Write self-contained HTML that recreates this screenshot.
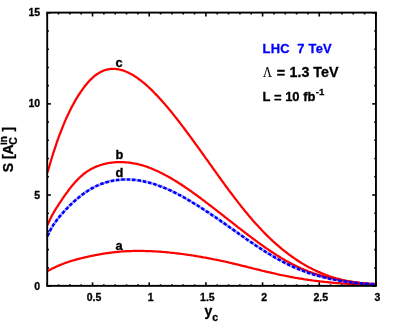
<!DOCTYPE html>
<html><head><meta charset="utf-8"><style>
html,body{margin:0;padding:0;background:#fff;}
svg{display:block;will-change:transform;}
text{font-family:"Liberation Sans",sans-serif;font-weight:bold;fill:#000;stroke:#000;stroke-width:0.3px;}
</style></head><body>
<svg width="396" height="332" viewBox="0 0 396 332">
<g fill="none" stroke="#ff0000" stroke-width="2.25" stroke-linejoin="round">
<path d="M47.5,172.5 L48.1,170.4 L48.7,168.4 L49.3,166.3 L49.9,164.3 L50.5,162.3 L51.1,160.3 L51.7,158.3 L52.3,156.3 L52.9,154.4 L53.5,152.4 L54.2,150.5 L54.8,148.7 L55.4,146.8 L56.0,145.0 L56.6,143.2 L57.2,141.4 L57.8,139.7 L58.4,138.0 L59.0,136.3 L59.6,134.6 L60.3,133.0 L60.9,131.4 L61.5,129.8 L62.1,128.3 L62.7,126.8 L63.3,125.3 L63.9,123.8 L64.5,122.4 L65.1,120.9 L65.7,119.6 L66.3,118.2 L67.0,116.8 L67.6,115.5 L68.2,114.2 L68.8,112.9 L69.4,111.7 L70.0,110.5 L70.6,109.2 L71.2,108.0 L71.8,106.9 L72.4,105.7 L73.1,104.6 L73.7,103.5 L74.3,102.4 L74.9,101.3 L75.5,100.2 L76.1,99.2 L76.7,98.2 L77.3,97.2 L77.9,96.2 L78.5,95.2 L79.2,94.3 L79.8,93.3 L80.4,92.4 L81.0,91.5 L81.6,90.6 L82.2,89.8 L82.8,88.9 L83.4,88.1 L84.0,87.3 L84.6,86.5 L85.2,85.7 L85.9,84.9 L86.5,84.2 L87.1,83.5 L87.7,82.8 L88.3,82.1 L88.9,81.4 L89.5,80.8 L90.1,80.1 L90.7,79.5 L91.3,78.9 L92.0,78.3 L92.6,77.8 L93.2,77.2 L93.8,76.7 L94.4,76.2 L95.0,75.7 L95.6,75.2 L96.2,74.8 L96.8,74.3 L97.4,73.9 L98.1,73.5 L98.7,73.1 L99.3,72.7 L99.9,72.4 L100.5,72.1 L101.1,71.7 L101.7,71.4 L102.3,71.2 L102.9,70.9 L103.5,70.7 L104.1,70.4 L104.8,70.2 L105.4,70.0 L106.0,69.8 L106.6,69.7 L107.2,69.5 L107.8,69.4 L108.4,69.3 L109.0,69.2 L109.6,69.1 L110.2,69.0 L110.9,68.9 L111.5,68.9 L112.1,68.9 L112.7,68.8 L113.3,68.8 L113.9,68.8 L114.5,68.9 L115.1,68.9 L115.7,69.0 L116.3,69.0 L117.0,69.1 L117.6,69.2 L118.2,69.3 L118.8,69.4 L119.4,69.5 L120.0,69.6 L120.5,69.8 L121.7,70.1 L122.8,70.4 L124.0,70.8 L125.2,71.3 L126.3,71.7 L127.5,72.2 L128.7,72.8 L129.8,73.4 L131.0,74.0 L132.1,74.6 L133.3,75.3 L134.5,76.1 L135.6,76.8 L136.8,77.6 L138.0,78.4 L139.1,79.3 L140.3,80.1 L141.5,81.0 L142.6,82.0 L143.8,82.9 L145.0,83.9 L146.1,84.9 L147.3,86.0 L148.5,87.0 L149.6,88.1 L150.8,89.2 L152.0,90.4 L153.1,91.5 L154.3,92.7 L155.4,93.9 L156.6,95.1 L157.8,96.3 L158.9,97.6 L160.1,98.9 L161.3,100.1 L162.4,101.5 L163.6,102.8 L164.8,104.1 L165.9,105.5 L167.1,106.8 L168.3,108.2 L169.4,109.6 L170.6,111.1 L171.8,112.5 L172.9,113.9 L174.1,115.4 L175.2,116.9 L176.4,118.3 L177.6,119.8 L178.7,121.3 L179.9,122.8 L181.1,124.4 L182.2,125.9 L183.4,127.4 L184.6,129.0 L185.7,130.5 L186.9,132.1 L188.1,133.7 L189.2,135.2 L190.4,136.8 L191.6,138.4 L192.7,140.0 L193.9,141.6 L195.0,143.2 L196.2,144.8 L197.4,146.4 L198.5,148.0 L199.7,149.6 L200.9,151.3 L202.0,152.9 L203.2,154.5 L204.4,156.1 L205.5,157.8 L206.7,159.4 L207.9,161.0 L209.0,162.7 L210.2,164.3 L211.4,165.9 L212.5,167.6 L213.7,169.2 L214.9,170.8 L216.0,172.5 L217.2,174.1 L218.3,175.7 L219.5,177.3 L220.7,179.0 L221.8,180.6 L223.0,182.2 L224.2,183.8 L225.3,185.4 L226.5,187.0 L227.7,188.5 L228.8,190.1 L230.0,191.7 L231.2,193.2 L232.3,194.8 L233.5,196.3 L234.7,197.9 L235.8,199.4 L237.0,200.9 L238.1,202.4 L239.3,203.9 L240.5,205.4 L241.6,206.9 L242.8,208.3 L244.0,209.8 L245.1,211.2 L246.3,212.6 L247.5,214.0 L248.6,215.4 L249.8,216.8 L251.0,218.2 L252.1,219.5 L253.3,220.9 L254.5,222.2 L255.6,223.5 L256.8,224.8 L258.0,226.1 L259.1,227.3 L260.3,228.6 L261.4,229.8 L262.6,231.0 L263.8,232.2 L264.9,233.4 L266.1,234.6 L267.3,235.7 L268.4,236.9 L269.6,238.0 L270.8,239.1 L271.9,240.2 L273.1,241.3 L274.3,242.3 L275.4,243.4 L276.6,244.4 L277.8,245.4 L278.9,246.4 L280.1,247.4 L281.2,248.4 L282.4,249.4 L283.6,250.3 L284.7,251.2 L285.9,252.1 L287.1,253.0 L288.2,253.9 L289.4,254.8 L290.6,255.7 L291.7,256.5 L292.9,257.3 L294.1,258.1 L295.2,258.9 L296.4,259.7 L297.6,260.5 L298.7,261.2 L299.9,262.0 L301.1,262.7 L302.2,263.4 L303.4,264.1 L304.5,264.8 L305.7,265.5 L306.9,266.1 L308.0,266.8 L309.2,267.4 L310.4,268.0 L311.5,268.6 L312.7,269.2 L313.9,269.8 L315.0,270.3 L316.2,270.9 L317.4,271.4 L318.5,271.9 L319.7,272.4 L320.9,272.9 L322.0,273.4 L323.2,273.9 L324.3,274.3 L325.5,274.8 L326.7,275.2 L327.8,275.6 L329.0,276.1 L330.2,276.5 L331.3,276.8 L332.5,277.2 L333.7,277.6 L334.8,277.9 L336.0,278.3 L337.2,278.6 L338.3,278.9 L339.5,279.2 L340.7,279.5 L341.8,279.8 L343.0,280.1 L344.1,280.3 L345.3,280.6 L346.5,280.8 L347.6,281.1 L348.8,281.3 L350.0,281.5 L351.1,281.7 L352.3,281.9 L353.5,282.1 L354.6,282.3 L355.8,282.5 L357.0,282.6 L358.1,282.8 L359.3,282.9 L360.5,283.0 L361.6,283.2 L362.8,283.3 L364.0,283.4 L365.1,283.5 L366.3,283.6 L367.4,283.6 L368.6,283.7 L369.8,283.8 L370.9,283.8 L372.1,283.9 L373.3,283.9 L374.4,283.9 L375.6,284.0"/>
<path d="M47.5,225.2 L48.1,223.7 L48.7,222.3 L49.3,221.0 L49.9,219.7 L50.5,218.5 L51.1,217.3 L51.7,216.1 L52.3,215.0 L52.9,213.9 L53.5,212.8 L54.2,211.7 L54.8,210.7 L55.4,209.7 L56.0,208.7 L56.6,207.7 L57.2,206.8 L57.8,205.8 L58.4,204.9 L59.0,203.9 L59.6,203.0 L60.3,202.1 L60.9,201.2 L61.5,200.3 L62.1,199.4 L62.7,198.5 L63.3,197.6 L63.9,196.7 L64.5,195.8 L65.1,194.9 L65.7,194.1 L66.3,193.2 L67.0,192.4 L67.6,191.6 L68.2,190.7 L68.8,189.9 L69.4,189.1 L70.0,188.4 L70.6,187.6 L71.2,186.8 L71.8,186.1 L72.4,185.3 L73.1,184.6 L73.7,183.9 L74.3,183.2 L74.9,182.5 L75.5,181.8 L76.1,181.1 L76.7,180.5 L77.3,179.9 L77.9,179.2 L78.5,178.6 L79.2,178.0 L79.8,177.4 L80.4,176.9 L81.0,176.3 L81.6,175.8 L82.2,175.3 L82.8,174.7 L83.4,174.2 L84.0,173.8 L84.6,173.3 L85.2,172.8 L85.9,172.4 L86.5,172.0 L87.1,171.5 L87.7,171.1 L88.3,170.7 L88.9,170.4 L89.5,170.0 L90.1,169.6 L90.7,169.3 L91.3,168.9 L92.0,168.6 L92.6,168.3 L93.2,168.0 L93.8,167.7 L94.4,167.4 L95.0,167.1 L95.6,166.9 L96.2,166.6 L96.8,166.4 L97.4,166.1 L98.1,165.9 L98.7,165.7 L99.3,165.5 L99.9,165.2 L100.5,165.0 L101.1,164.9 L101.7,164.7 L102.3,164.5 L102.9,164.3 L103.5,164.2 L104.1,164.0 L104.8,163.9 L105.4,163.7 L106.0,163.6 L106.6,163.5 L107.2,163.3 L107.8,163.2 L108.4,163.1 L109.0,163.0 L109.6,162.9 L110.2,162.8 L110.9,162.7 L111.5,162.6 L112.1,162.6 L112.7,162.5 L113.3,162.4 L113.9,162.4 L114.5,162.3 L115.1,162.3 L115.7,162.2 L116.3,162.2 L117.0,162.2 L117.6,162.2 L118.2,162.1 L118.8,162.1 L119.4,162.1 L120.0,162.1 L120.5,162.1 L121.7,162.1 L122.8,162.1 L124.0,162.2 L125.2,162.3 L126.3,162.3 L127.5,162.5 L128.7,162.6 L129.8,162.7 L131.0,162.9 L132.1,163.1 L133.3,163.3 L134.5,163.5 L135.6,163.7 L136.8,163.9 L138.0,164.2 L139.1,164.5 L140.3,164.8 L141.5,165.1 L142.6,165.4 L143.8,165.8 L145.0,166.2 L146.1,166.5 L147.3,166.9 L148.5,167.4 L149.6,167.8 L150.8,168.2 L152.0,168.7 L153.1,169.2 L154.3,169.7 L155.4,170.2 L156.6,170.7 L157.8,171.3 L158.9,171.8 L160.1,172.4 L161.3,173.0 L162.4,173.5 L163.6,174.2 L164.8,174.8 L165.9,175.4 L167.1,176.0 L168.3,176.7 L169.4,177.3 L170.6,178.0 L171.8,178.7 L172.9,179.4 L174.1,180.1 L175.2,180.8 L176.4,181.5 L177.6,182.2 L178.7,183.0 L179.9,183.7 L181.1,184.5 L182.2,185.2 L183.4,186.0 L184.6,186.8 L185.7,187.6 L186.9,188.4 L188.1,189.2 L189.2,190.0 L190.4,190.8 L191.6,191.6 L192.7,192.5 L193.9,193.3 L195.0,194.1 L196.2,195.0 L197.4,195.8 L198.5,196.7 L199.7,197.5 L200.9,198.4 L202.0,199.3 L203.2,200.2 L204.4,201.0 L205.5,201.9 L206.7,202.8 L207.9,203.7 L209.0,204.6 L210.2,205.5 L211.4,206.4 L212.5,207.3 L213.7,208.2 L214.9,209.1 L216.0,210.0 L217.2,210.9 L218.3,211.8 L219.5,212.7 L220.7,213.6 L221.8,214.5 L223.0,215.4 L224.2,216.4 L225.3,217.3 L226.5,218.2 L227.7,219.1 L228.8,220.0 L230.0,220.9 L231.2,221.8 L232.3,222.7 L233.5,223.7 L234.7,224.6 L235.8,225.5 L237.0,226.4 L238.1,227.3 L239.3,228.2 L240.5,229.1 L241.6,230.0 L242.8,230.9 L244.0,231.8 L245.1,232.7 L246.3,233.6 L247.5,234.5 L248.6,235.3 L249.8,236.2 L251.0,237.1 L252.1,238.0 L253.3,238.9 L254.5,239.7 L255.6,240.6 L256.8,241.4 L258.0,242.3 L259.1,243.1 L260.3,244.0 L261.4,244.8 L262.6,245.6 L263.8,246.5 L264.9,247.3 L266.1,248.1 L267.3,248.9 L268.4,249.7 L269.6,250.5 L270.8,251.3 L271.9,252.0 L273.1,252.8 L274.3,253.6 L275.4,254.3 L276.6,255.1 L277.8,255.8 L278.9,256.5 L280.1,257.2 L281.2,257.9 L282.4,258.6 L283.6,259.3 L284.7,260.0 L285.9,260.7 L287.1,261.3 L288.2,262.0 L289.4,262.6 L290.6,263.2 L291.7,263.8 L292.9,264.5 L294.1,265.0 L295.2,265.6 L296.4,266.2 L297.6,266.8 L298.7,267.3 L299.9,267.8 L301.1,268.4 L302.2,268.9 L303.4,269.4 L304.5,269.9 L305.7,270.3 L306.9,270.8 L308.0,271.3 L309.2,271.7 L310.4,272.1 L311.5,272.5 L312.7,273.0 L313.9,273.4 L315.0,273.7 L316.2,274.1 L317.4,274.5 L318.5,274.8 L319.7,275.2 L320.9,275.5 L322.0,275.9 L323.2,276.2 L324.3,276.5 L325.5,276.8 L326.7,277.1 L327.8,277.4 L329.0,277.7 L330.2,277.9 L331.3,278.2 L332.5,278.5 L333.7,278.7 L334.8,279.0 L336.0,279.2 L337.2,279.4 L338.3,279.7 L339.5,279.9 L340.7,280.1 L341.8,280.3 L343.0,280.5 L344.1,280.7 L345.3,280.9 L346.5,281.1 L347.6,281.3 L348.8,281.4 L350.0,281.6 L351.1,281.8 L352.3,281.9 L353.5,282.1 L354.6,282.3 L355.8,282.4 L357.0,282.6 L358.1,282.7 L359.3,282.8 L360.5,283.0 L361.6,283.1 L362.8,283.2 L364.0,283.4 L365.1,283.5 L366.3,283.6 L367.4,283.7 L368.6,283.9 L369.8,284.0 L370.9,284.1 L372.1,284.2 L373.3,284.3 L374.4,284.4 L375.6,284.5"/>
<path d="M47.5,271.1 L48.1,270.8 L48.7,270.4 L49.3,270.1 L49.9,269.8 L50.5,269.5 L51.1,269.2 L51.7,268.9 L52.3,268.5 L52.9,268.2 L53.5,267.9 L54.2,267.7 L54.8,267.4 L55.4,267.1 L56.0,266.8 L56.6,266.5 L57.2,266.2 L57.8,266.0 L58.4,265.7 L59.0,265.4 L59.6,265.2 L60.3,264.9 L60.9,264.7 L61.5,264.4 L62.1,264.2 L62.7,264.0 L63.3,263.7 L63.9,263.5 L64.5,263.3 L65.1,263.0 L65.7,262.8 L66.3,262.6 L67.0,262.4 L67.6,262.2 L68.2,262.0 L68.8,261.8 L69.4,261.6 L70.0,261.4 L70.6,261.2 L71.2,261.0 L71.8,260.8 L72.4,260.6 L73.1,260.5 L73.7,260.3 L74.3,260.1 L74.9,259.9 L75.5,259.8 L76.1,259.6 L76.7,259.4 L77.3,259.3 L77.9,259.1 L78.5,258.9 L79.2,258.8 L79.8,258.6 L80.4,258.5 L81.0,258.3 L81.6,258.2 L82.2,258.0 L82.8,257.9 L83.4,257.7 L84.0,257.6 L84.6,257.4 L85.2,257.3 L85.9,257.2 L86.5,257.0 L87.1,256.9 L87.7,256.7 L88.3,256.6 L88.9,256.5 L89.5,256.3 L90.1,256.2 L90.7,256.1 L91.3,256.0 L92.0,255.8 L92.6,255.7 L93.2,255.6 L93.8,255.5 L94.4,255.3 L95.0,255.2 L95.6,255.1 L96.2,255.0 L96.8,254.9 L97.4,254.8 L98.1,254.6 L98.7,254.5 L99.3,254.4 L99.9,254.3 L100.5,254.2 L101.1,254.1 L101.7,254.0 L102.3,253.9 L102.9,253.8 L103.5,253.7 L104.1,253.6 L104.8,253.5 L105.4,253.4 L106.0,253.3 L106.6,253.2 L107.2,253.1 L107.8,253.0 L108.4,253.0 L109.0,252.9 L109.6,252.8 L110.2,252.7 L110.9,252.6 L111.5,252.6 L112.1,252.5 L112.7,252.4 L113.3,252.3 L113.9,252.3 L114.5,252.2 L115.1,252.1 L115.7,252.1 L116.3,252.0 L117.0,251.9 L117.6,251.9 L118.2,251.8 L118.8,251.8 L119.4,251.7 L120.0,251.7 L120.5,251.6 L121.7,251.5 L122.8,251.4 L124.0,251.3 L125.2,251.3 L126.3,251.2 L127.5,251.1 L128.7,251.1 L129.8,251.0 L131.0,251.0 L132.1,251.0 L133.3,250.9 L134.5,250.9 L135.6,250.9 L136.8,250.9 L138.0,250.9 L139.1,250.9 L140.3,250.9 L141.5,250.9 L142.6,250.9 L143.8,250.9 L145.0,251.0 L146.1,251.0 L147.3,251.0 L148.5,251.1 L149.6,251.1 L150.8,251.2 L152.0,251.2 L153.1,251.3 L154.3,251.3 L155.4,251.4 L156.6,251.5 L157.8,251.6 L158.9,251.6 L160.1,251.7 L161.3,251.8 L162.4,251.9 L163.6,252.0 L164.8,252.1 L165.9,252.2 L167.1,252.3 L168.3,252.4 L169.4,252.5 L170.6,252.7 L171.8,252.8 L172.9,252.9 L174.1,253.0 L175.2,253.2 L176.4,253.3 L177.6,253.4 L178.7,253.6 L179.9,253.7 L181.1,253.9 L182.2,254.0 L183.4,254.2 L184.6,254.3 L185.7,254.5 L186.9,254.7 L188.1,254.8 L189.2,255.0 L190.4,255.2 L191.6,255.3 L192.7,255.5 L193.9,255.7 L195.0,255.9 L196.2,256.1 L197.4,256.3 L198.5,256.5 L199.7,256.7 L200.9,256.9 L202.0,257.1 L203.2,257.3 L204.4,257.5 L205.5,257.7 L206.7,257.9 L207.9,258.1 L209.0,258.3 L210.2,258.6 L211.4,258.8 L212.5,259.0 L213.7,259.3 L214.9,259.5 L216.0,259.7 L217.2,260.0 L218.3,260.2 L219.5,260.5 L220.7,260.7 L221.8,261.0 L223.0,261.2 L224.2,261.5 L225.3,261.7 L226.5,262.0 L227.7,262.2 L228.8,262.5 L230.0,262.8 L231.2,263.0 L232.3,263.3 L233.5,263.6 L234.7,263.9 L235.8,264.2 L237.0,264.4 L238.1,264.7 L239.3,265.0 L240.5,265.3 L241.6,265.6 L242.8,265.9 L244.0,266.1 L245.1,266.4 L246.3,266.7 L247.5,267.0 L248.6,267.3 L249.8,267.6 L251.0,267.9 L252.1,268.2 L253.3,268.5 L254.5,268.8 L255.6,269.0 L256.8,269.3 L258.0,269.6 L259.1,269.9 L260.3,270.2 L261.4,270.5 L262.6,270.8 L263.8,271.0 L264.9,271.3 L266.1,271.6 L267.3,271.9 L268.4,272.1 L269.6,272.4 L270.8,272.7 L271.9,273.0 L273.1,273.2 L274.3,273.5 L275.4,273.7 L276.6,274.0 L277.8,274.3 L278.9,274.5 L280.1,274.8 L281.2,275.0 L282.4,275.3 L283.6,275.5 L284.7,275.7 L285.9,276.0 L287.1,276.2 L288.2,276.4 L289.4,276.7 L290.6,276.9 L291.7,277.1 L292.9,277.3 L294.1,277.5 L295.2,277.8 L296.4,278.0 L297.6,278.2 L298.7,278.4 L299.9,278.6 L301.1,278.7 L302.2,278.9 L303.4,279.1 L304.5,279.3 L305.7,279.5 L306.9,279.6 L308.0,279.8 L309.2,280.0 L310.4,280.1 L311.5,280.3 L312.7,280.5 L313.9,280.6 L315.0,280.8 L316.2,280.9 L317.4,281.1 L318.5,281.2 L319.7,281.3 L320.9,281.5 L322.0,281.6 L323.2,281.7 L324.3,281.9 L325.5,282.0 L326.7,282.1 L327.8,282.2 L329.0,282.3 L330.2,282.4 L331.3,282.6 L332.5,282.7 L333.7,282.8 L334.8,282.9 L336.0,283.0 L337.2,283.1 L338.3,283.2 L339.5,283.2 L340.7,283.3 L341.8,283.4 L343.0,283.5 L344.1,283.6 L345.3,283.7 L346.5,283.7 L347.6,283.8 L348.8,283.9 L350.0,284.0 L351.1,284.0 L352.3,284.1 L353.5,284.2 L354.6,284.2 L355.8,284.3 L357.0,284.3 L358.1,284.4 L359.3,284.4 L360.5,284.5 L361.6,284.5 L362.8,284.6 L364.0,284.6 L365.1,284.7 L366.3,284.7 L367.4,284.7 L368.6,284.8 L369.8,284.8 L370.9,284.9 L372.1,284.9 L373.3,284.9 L374.4,284.9 L375.6,285.0"/>
</g>
<path d="M47.5,236.2 L48.1,234.8 L48.7,233.5 L49.3,232.2 L49.9,231.0 L50.5,229.8 L51.1,228.7 L51.7,227.6 L52.3,226.6 L52.9,225.6 L53.5,224.7 L54.2,223.8 L54.8,222.9 L55.4,222.0 L56.0,221.2 L56.6,220.4 L57.2,219.6 L57.8,218.8 L58.4,218.0 L59.0,217.3 L59.6,216.5 L60.3,215.8 L60.9,215.1 L61.5,214.4 L62.1,213.7 L62.7,213.0 L63.3,212.3 L63.9,211.7 L64.5,211.0 L65.1,210.3 L65.7,209.7 L66.3,209.0 L67.0,208.4 L67.6,207.8 L68.2,207.1 L68.8,206.5 L69.4,205.9 L70.0,205.3 L70.6,204.7 L71.2,204.1 L71.8,203.5 L72.4,202.9 L73.1,202.4 L73.7,201.8 L74.3,201.3 L74.9,200.7 L75.5,200.2 L76.1,199.6 L76.7,199.1 L77.3,198.6 L77.9,198.1 L78.5,197.6 L79.2,197.1 L79.8,196.6 L80.4,196.1 L81.0,195.6 L81.6,195.1 L82.2,194.7 L82.8,194.2 L83.4,193.8 L84.0,193.3 L84.6,192.9 L85.2,192.5 L85.9,192.1 L86.5,191.7 L87.1,191.3 L87.7,190.9 L88.3,190.5 L88.9,190.1 L89.5,189.7 L90.1,189.4 L90.7,189.0 L91.3,188.7 L92.0,188.3 L92.6,188.0 L93.2,187.7 L93.8,187.3 L94.4,187.0 L95.0,186.7 L95.6,186.4 L96.2,186.1 L96.8,185.8 L97.4,185.6 L98.1,185.3 L98.7,185.0 L99.3,184.8 L99.9,184.5 L100.5,184.3 L101.1,184.1 L101.7,183.8 L102.3,183.6 L102.9,183.4 L103.5,183.2 L104.1,183.0 L104.8,182.8 L105.4,182.6 L106.0,182.4 L106.6,182.2 L107.2,182.0 L107.8,181.9 L108.4,181.7 L109.0,181.6 L109.6,181.4 L110.2,181.3 L110.9,181.1 L111.5,181.0 L112.1,180.9 L112.7,180.7 L113.3,180.6 L113.9,180.5 L114.5,180.4 L115.1,180.3 L115.7,180.2 L116.3,180.1 L117.0,180.0 L117.6,180.0 L118.2,179.9 L118.8,179.8 L119.4,179.8 L120.0,179.7 L120.5,179.7 L121.7,179.6 L122.8,179.5 L124.0,179.5 L125.2,179.5 L126.3,179.4 L127.5,179.5 L128.7,179.5 L129.8,179.5 L131.0,179.6 L132.1,179.7 L133.3,179.8 L134.5,179.9 L135.6,180.0 L136.8,180.2 L138.0,180.3 L139.1,180.5 L140.3,180.7 L141.5,180.9 L142.6,181.1 L143.8,181.4 L145.0,181.6 L146.1,181.9 L147.3,182.2 L148.5,182.5 L149.6,182.8 L150.8,183.1 L152.0,183.4 L153.1,183.8 L154.3,184.1 L155.4,184.5 L156.6,184.9 L157.8,185.3 L158.9,185.7 L160.1,186.2 L161.3,186.6 L162.4,187.1 L163.6,187.5 L164.8,188.0 L165.9,188.5 L167.1,189.0 L168.3,189.5 L169.4,190.0 L170.6,190.5 L171.8,191.1 L172.9,191.6 L174.1,192.2 L175.2,192.8 L176.4,193.4 L177.6,194.0 L178.7,194.6 L179.9,195.2 L181.1,195.8 L182.2,196.5 L183.4,197.1 L184.6,197.8 L185.7,198.4 L186.9,199.1 L188.1,199.8 L189.2,200.5 L190.4,201.1 L191.6,201.8 L192.7,202.6 L193.9,203.3 L195.0,204.0 L196.2,204.7 L197.4,205.4 L198.5,206.2 L199.7,206.9 L200.9,207.7 L202.0,208.4 L203.2,209.2 L204.4,209.9 L205.5,210.7 L206.7,211.5 L207.9,212.2 L209.0,213.0 L210.2,213.8 L211.4,214.6 L212.5,215.4 L213.7,216.1 L214.9,216.9 L216.0,217.7 L217.2,218.5 L218.3,219.3 L219.5,220.1 L220.7,220.9 L221.8,221.8 L223.0,222.6 L224.2,223.4 L225.3,224.2 L226.5,225.0 L227.7,225.8 L228.8,226.7 L230.0,227.5 L231.2,228.3 L232.3,229.1 L233.5,229.9 L234.7,230.8 L235.8,231.6 L237.0,232.4 L238.1,233.2 L239.3,234.1 L240.5,234.9 L241.6,235.7 L242.8,236.5 L244.0,237.3 L245.1,238.1 L246.3,239.0 L247.5,239.8 L248.6,240.6 L249.8,241.4 L251.0,242.2 L252.1,242.9 L253.3,243.7 L254.5,244.5 L255.6,245.3 L256.8,246.1 L258.0,246.8 L259.1,247.6 L260.3,248.4 L261.4,249.1 L262.6,249.9 L263.8,250.6 L264.9,251.3 L266.1,252.1 L267.3,252.8 L268.4,253.5 L269.6,254.2 L270.8,254.9 L271.9,255.6 L273.1,256.3 L274.3,257.0 L275.4,257.7 L276.6,258.3 L277.8,259.0 L278.9,259.6 L280.1,260.3 L281.2,260.9 L282.4,261.5 L283.6,262.1 L284.7,262.7 L285.9,263.3 L287.1,263.9 L288.2,264.5 L289.4,265.0 L290.6,265.6 L291.7,266.1 L292.9,266.7 L294.1,267.2 L295.2,267.7 L296.4,268.2 L297.6,268.7 L298.7,269.2 L299.9,269.6 L301.1,270.1 L302.2,270.6 L303.4,271.0 L304.5,271.4 L305.7,271.9 L306.9,272.3 L308.0,272.7 L309.2,273.1 L310.4,273.5 L311.5,273.8 L312.7,274.2 L313.9,274.6 L315.0,274.9 L316.2,275.3 L317.4,275.6 L318.5,275.9 L319.7,276.3 L320.9,276.6 L322.0,276.9 L323.2,277.2 L324.3,277.5 L325.5,277.8 L326.7,278.0 L327.8,278.3 L329.0,278.6 L330.2,278.8 L331.3,279.1 L332.5,279.3 L333.7,279.5 L334.8,279.8 L336.0,280.0 L337.2,280.2 L338.3,280.4 L339.5,280.6 L340.7,280.8 L341.8,281.0 L343.0,281.2 L344.1,281.4 L345.3,281.5 L346.5,281.7 L347.6,281.9 L348.8,282.0 L350.0,282.2 L351.1,282.3 L352.3,282.5 L353.5,282.6 L354.6,282.7 L355.8,282.9 L357.0,283.0 L358.1,283.1 L359.3,283.2 L360.5,283.3 L361.6,283.4 L362.8,283.5 L364.0,283.6 L365.1,283.7 L366.3,283.8 L367.4,283.8 L368.6,283.9 L369.8,284.0 L370.9,284.1 L372.1,284.1 L373.3,284.2 L374.4,284.2 L375.6,284.3" fill="none" stroke="#0000ff" stroke-width="2.7" stroke-dasharray="3.7,0.65,0.4,0.65"/>
<g stroke="#000" stroke-width="1.6" transform="translate(0,0.2)">
<line x1="47.20" y1="285.85" x2="47.20" y2="284.15000000000003"/>
<line x1="47.20" y1="12.6" x2="47.20" y2="14.299999999999999"/>
<line x1="58.54" y1="285.85" x2="58.54" y2="284.15000000000003"/>
<line x1="58.54" y1="12.6" x2="58.54" y2="14.299999999999999"/>
<line x1="69.87" y1="285.85" x2="69.87" y2="284.15000000000003"/>
<line x1="69.87" y1="12.6" x2="69.87" y2="14.299999999999999"/>
<line x1="81.21" y1="285.85" x2="81.21" y2="284.15000000000003"/>
<line x1="81.21" y1="12.6" x2="81.21" y2="14.299999999999999"/>
<line x1="92.54" y1="285.85" x2="92.54" y2="282.15000000000003"/>
<line x1="92.54" y1="12.6" x2="92.54" y2="16.3"/>
<line x1="103.88" y1="285.85" x2="103.88" y2="284.15000000000003"/>
<line x1="103.88" y1="12.6" x2="103.88" y2="14.299999999999999"/>
<line x1="115.22" y1="285.85" x2="115.22" y2="284.15000000000003"/>
<line x1="115.22" y1="12.6" x2="115.22" y2="14.299999999999999"/>
<line x1="126.55" y1="285.85" x2="126.55" y2="284.15000000000003"/>
<line x1="126.55" y1="12.6" x2="126.55" y2="14.299999999999999"/>
<line x1="137.89" y1="285.85" x2="137.89" y2="284.15000000000003"/>
<line x1="137.89" y1="12.6" x2="137.89" y2="14.299999999999999"/>
<line x1="149.23" y1="285.85" x2="149.23" y2="282.15000000000003"/>
<line x1="149.23" y1="12.6" x2="149.23" y2="16.3"/>
<line x1="160.56" y1="285.85" x2="160.56" y2="284.15000000000003"/>
<line x1="160.56" y1="12.6" x2="160.56" y2="14.299999999999999"/>
<line x1="171.90" y1="285.85" x2="171.90" y2="284.15000000000003"/>
<line x1="171.90" y1="12.6" x2="171.90" y2="14.299999999999999"/>
<line x1="183.23" y1="285.85" x2="183.23" y2="284.15000000000003"/>
<line x1="183.23" y1="12.6" x2="183.23" y2="14.299999999999999"/>
<line x1="194.57" y1="285.85" x2="194.57" y2="284.15000000000003"/>
<line x1="194.57" y1="12.6" x2="194.57" y2="14.299999999999999"/>
<line x1="205.91" y1="285.85" x2="205.91" y2="282.15000000000003"/>
<line x1="205.91" y1="12.6" x2="205.91" y2="16.3"/>
<line x1="217.24" y1="285.85" x2="217.24" y2="284.15000000000003"/>
<line x1="217.24" y1="12.6" x2="217.24" y2="14.299999999999999"/>
<line x1="228.58" y1="285.85" x2="228.58" y2="284.15000000000003"/>
<line x1="228.58" y1="12.6" x2="228.58" y2="14.299999999999999"/>
<line x1="239.92" y1="285.85" x2="239.92" y2="284.15000000000003"/>
<line x1="239.92" y1="12.6" x2="239.92" y2="14.299999999999999"/>
<line x1="251.25" y1="285.85" x2="251.25" y2="284.15000000000003"/>
<line x1="251.25" y1="12.6" x2="251.25" y2="14.299999999999999"/>
<line x1="262.59" y1="285.85" x2="262.59" y2="282.15000000000003"/>
<line x1="262.59" y1="12.6" x2="262.59" y2="16.3"/>
<line x1="273.92" y1="285.85" x2="273.92" y2="284.15000000000003"/>
<line x1="273.92" y1="12.6" x2="273.92" y2="14.299999999999999"/>
<line x1="285.26" y1="285.85" x2="285.26" y2="284.15000000000003"/>
<line x1="285.26" y1="12.6" x2="285.26" y2="14.299999999999999"/>
<line x1="296.60" y1="285.85" x2="296.60" y2="284.15000000000003"/>
<line x1="296.60" y1="12.6" x2="296.60" y2="14.299999999999999"/>
<line x1="307.93" y1="285.85" x2="307.93" y2="284.15000000000003"/>
<line x1="307.93" y1="12.6" x2="307.93" y2="14.299999999999999"/>
<line x1="319.27" y1="285.85" x2="319.27" y2="282.15000000000003"/>
<line x1="319.27" y1="12.6" x2="319.27" y2="16.3"/>
<line x1="330.61" y1="285.85" x2="330.61" y2="284.15000000000003"/>
<line x1="330.61" y1="12.6" x2="330.61" y2="14.299999999999999"/>
<line x1="341.94" y1="285.85" x2="341.94" y2="284.15000000000003"/>
<line x1="341.94" y1="12.6" x2="341.94" y2="14.299999999999999"/>
<line x1="353.28" y1="285.85" x2="353.28" y2="284.15000000000003"/>
<line x1="353.28" y1="12.6" x2="353.28" y2="14.299999999999999"/>
<line x1="364.61" y1="285.85" x2="364.61" y2="284.15000000000003"/>
<line x1="364.61" y1="12.6" x2="364.61" y2="14.299999999999999"/>
<line x1="375.95" y1="285.85" x2="375.95" y2="282.15000000000003"/>
<line x1="375.95" y1="12.6" x2="375.95" y2="16.3"/>
<line x1="47.2" y1="285.85" x2="50.900000000000006" y2="285.85"/>
<line x1="375.95" y1="285.85" x2="372.25" y2="285.85"/>
<line x1="47.2" y1="267.63" x2="48.900000000000006" y2="267.63"/>
<line x1="375.95" y1="267.63" x2="374.25" y2="267.63"/>
<line x1="47.2" y1="249.42" x2="48.900000000000006" y2="249.42"/>
<line x1="375.95" y1="249.42" x2="374.25" y2="249.42"/>
<line x1="47.2" y1="231.20" x2="48.900000000000006" y2="231.20"/>
<line x1="375.95" y1="231.20" x2="374.25" y2="231.20"/>
<line x1="47.2" y1="212.98" x2="48.900000000000006" y2="212.98"/>
<line x1="375.95" y1="212.98" x2="374.25" y2="212.98"/>
<line x1="47.2" y1="194.77" x2="50.900000000000006" y2="194.77"/>
<line x1="375.95" y1="194.77" x2="372.25" y2="194.77"/>
<line x1="47.2" y1="176.55" x2="48.900000000000006" y2="176.55"/>
<line x1="375.95" y1="176.55" x2="374.25" y2="176.55"/>
<line x1="47.2" y1="158.33" x2="48.900000000000006" y2="158.33"/>
<line x1="375.95" y1="158.33" x2="374.25" y2="158.33"/>
<line x1="47.2" y1="140.12" x2="48.900000000000006" y2="140.12"/>
<line x1="375.95" y1="140.12" x2="374.25" y2="140.12"/>
<line x1="47.2" y1="121.90" x2="48.900000000000006" y2="121.90"/>
<line x1="375.95" y1="121.90" x2="374.25" y2="121.90"/>
<line x1="47.2" y1="103.68" x2="50.900000000000006" y2="103.68"/>
<line x1="375.95" y1="103.68" x2="372.25" y2="103.68"/>
<line x1="47.2" y1="85.47" x2="48.900000000000006" y2="85.47"/>
<line x1="375.95" y1="85.47" x2="374.25" y2="85.47"/>
<line x1="47.2" y1="67.25" x2="48.900000000000006" y2="67.25"/>
<line x1="375.95" y1="67.25" x2="374.25" y2="67.25"/>
<line x1="47.2" y1="49.03" x2="48.900000000000006" y2="49.03"/>
<line x1="375.95" y1="49.03" x2="374.25" y2="49.03"/>
<line x1="47.2" y1="30.82" x2="48.900000000000006" y2="30.82"/>
<line x1="375.95" y1="30.82" x2="374.25" y2="30.82"/>
<line x1="47.2" y1="12.60" x2="50.900000000000006" y2="12.60"/>
<line x1="375.95" y1="12.60" x2="372.25" y2="12.60"/>
</g>
<rect x="47.2" y="12.6" width="328.75" height="273.25" fill="none" stroke="#000" stroke-width="1.9"/>
<g font-size="10.5px">
<text x="94.0" y="300.8" text-anchor="middle">0.5</text>
<text x="150.7" y="300.8" text-anchor="middle">1</text>
<text x="207.4" y="300.8" text-anchor="middle">1.5</text>
<text x="264.1" y="300.8" text-anchor="middle">2</text>
<text x="320.8" y="300.8" text-anchor="middle">2.5</text>
<text x="377.4" y="300.8" text-anchor="middle">3</text>
<text x="40.1" y="289.6" text-anchor="end">0</text>
<text x="40.1" y="198.5" text-anchor="end">5</text>
<text x="40.1" y="107.4" text-anchor="end">10</text>
<text x="40.1" y="16.4" text-anchor="end">15</text>
</g>
<g font-size="12.5px">
<text transform="translate(115.4,66.7) scale(1.03,1)">c</text>
<text transform="translate(115.4,159.4) scale(1.03,1)">b</text>
<text transform="translate(115.4,176.8) scale(1.03,1)">d</text>
<text transform="translate(115.4,250.4) scale(1.03,1)">a</text>
</g>
<text x="262.6" y="53.2" font-size="12.9px" letter-spacing="0.22" style="fill:#0000ff;stroke:#0000ff;white-space:pre" xml:space="preserve">LHC  7 TeV</text>
<text transform="translate(263.1,77) scale(0.86,1)" font-size="14.3px" style="font-family:'Liberation Serif',serif;font-weight:normal;stroke-width:0.15px">Λ</text>
<text x="276.7" y="77" font-size="14.3px"><tspan dy="1.2">=</tspan><tspan dy="-1.2" dx="0.5"> 1.3 TeV</tspan></text>
<text x="262.6" y="101.4" font-size="13px">L <tspan dy="0.5">=</tspan><tspan dy="-0.5"> 10 fb</tspan><tspan font-size="9.6px" dy="-6.6" dx="0.3">-1</tspan></text>
<text x="204.5" y="315.8" font-size="14px">y<tspan font-size="10.5px" dy="4.8">c</tspan></text>
<g transform="translate(12.7,172.3) rotate(-90)">
<text x="0" y="0" font-size="14px">S [A<tspan font-size="10.5px" dy="4.5" dx="-0.4">C</tspan><tspan font-size="10px" dy="-9.8" dx="-7.8">in</tspan><tspan font-size="14px" dy="5.3" dx="0.6"> ]</tspan></text>
</g>
</svg>
</body></html>
